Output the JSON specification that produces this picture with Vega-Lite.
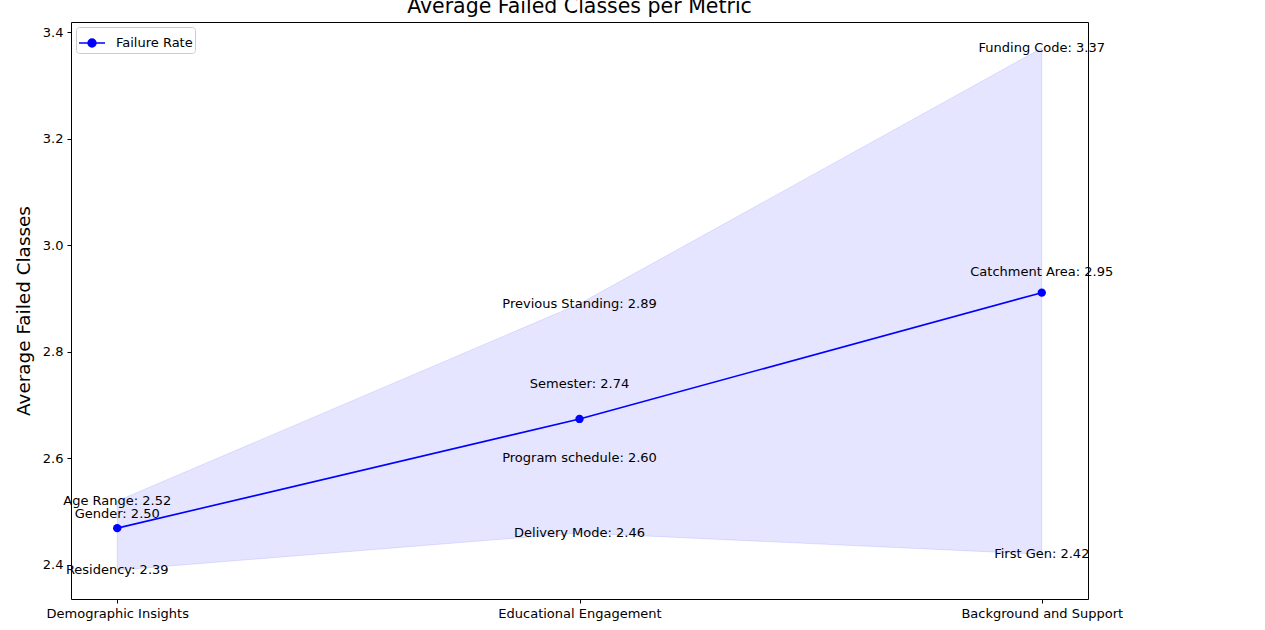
{
  "$schema": "https://vega.github.io/schema/vega-lite/v6.json",
  "autosize": "none",
  "width": 1017,
  "height": 577,
  "padding": {"left": 71, "top": 22, "right": 177, "bottom": 31},
  "background": "white",
  "config": {
    "font": "DejaVu Sans",
    "view": {"stroke": "black", "strokeWidth": 1},
    "axis": {"grid": false, "domain": false, "tickColor": "black", "tickSize": 4, "labelColor": "black", "labelFontSize": 13, "labelFont": "DejaVu Sans", "labelPadding": 4}
  },
  "title": {"text": "Average Failed Classes per Metric", "fontSize": 20.5, "fontWeight": "normal", "font": "DejaVu Sans", "color": "black", "offset": 5},
  "data": {"values": [
    {"category": "Demographic Insights", "mean": 2.469, "lo": 2.39, "hi": 2.52},
    {"category": "Educational Engagement", "mean": 2.674, "lo": 2.46, "hi": 2.89},
    {"category": "Background and Support", "mean": 2.911, "lo": 2.42, "hi": 3.37}
  ]},
  "encoding": {
    "x": {"field": "category", "type": "ordinal", "sort": null, "scale": {"type": "point", "padding": 0.1}, "axis": {"title": null, "labelAngle": 0}}
  },
  "layer": [
    {
      "mark": {"type": "area", "fill": "blue", "fillOpacity": 0.1, "stroke": "blue", "strokeOpacity": 0.1, "strokeWidth": 1},
      "encoding": {
        "y": {"field": "lo", "type": "quantitative", "scale": {"domain": [2.336, 3.419], "nice": false, "zero": false}, "axis": {"values": [2.4, 2.6, 2.8, 3.0, 3.2, 3.4], "format": ".1f", "title": "Average Failed Classes", "titleFontSize": 18.4, "titleFontWeight": "normal", "titleColor": "black", "titlePadding": 9}},
        "y2": {"field": "hi"}
      }
    },
    {
      "mark": {"type": "line", "strokeWidth": 1.6},
      "encoding": {
        "y": {"field": "mean", "type": "quantitative"},
        "color": {"datum": "Failure Rate", "type": "nominal", "scale": {"range": ["blue"]}, "legend": {"title": null, "orient": "top-left", "offset": 5, "labelFontSize": 13, "labelColor": "black", "labelFont": "DejaVu Sans", "labelOffset": 10, "symbolType": "M-1,0L1,0M0.3,0A0.3,0.3 0 1 1 -0.3,0A0.3,0.3 0 1 1 0.3,0Z", "symbolSize": 676, "symbolFillColor": "blue", "symbolStrokeColor": "blue", "symbolStrokeWidth": 1.6, "strokeColor": "#cccccc", "fillColor": "white", "padding": 2, "cornerRadius": 3}}
      }
    },
    {
      "mark": {"type": "point", "filled": true, "size": 70, "color": "blue", "opacity": 1},
      "encoding": {"y": {"field": "mean", "type": "quantitative"}}
    },
    {
      "data": {"values": [
        {"category": "Demographic Insights", "label": "Age Range: 2.52", "value": 2.52},
        {"category": "Demographic Insights", "label": "Gender: 2.50", "value": 2.495},
        {"category": "Demographic Insights", "label": "Residency: 2.39", "value": 2.39},
        {"category": "Educational Engagement", "label": "Previous Standing: 2.89", "value": 2.89},
        {"category": "Educational Engagement", "label": "Semester: 2.74", "value": 2.74},
        {"category": "Educational Engagement", "label": "Program schedule: 2.60", "value": 2.60},
        {"category": "Educational Engagement", "label": "Delivery Mode: 2.46", "value": 2.46},
        {"category": "Background and Support", "label": "Funding Code: 3.37", "value": 3.37},
        {"category": "Background and Support", "label": "Catchment Area: 2.95", "value": 2.95},
        {"category": "Background and Support", "label": "First Gen: 2.42", "value": 2.42}
      ]},
      "mark": {"type": "text", "fontSize": 13, "color": "black", "font": "DejaVu Sans", "baseline": "middle", "align": "center"},
      "encoding": {
        "y": {"field": "value", "type": "quantitative"},
        "text": {"field": "label"}
      }
    }
  ]
}
